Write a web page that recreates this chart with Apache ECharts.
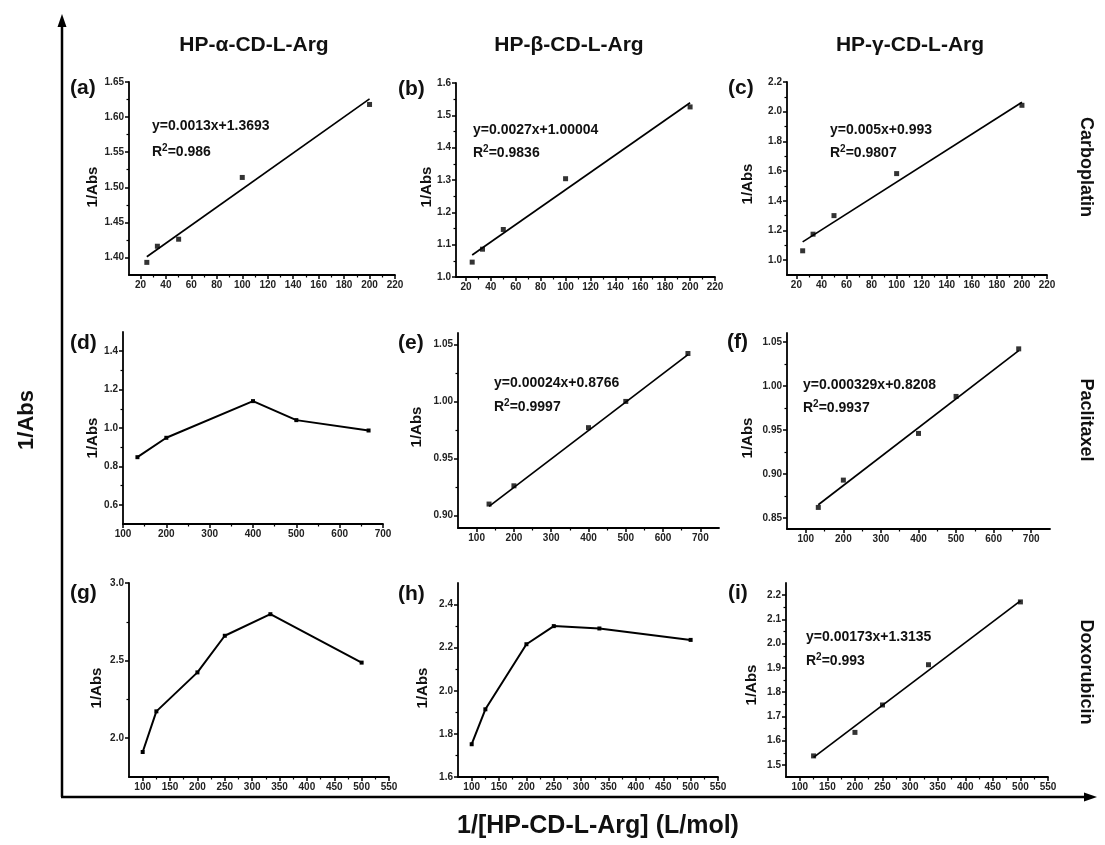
<!DOCTYPE html>
<html>
<head>
<meta charset="utf-8">
<script src="https://cdn.jsdelivr.net/npm/echarts@6.0.0/dist/echarts.min.js"></script>
<style>
html,body{margin:0;padding:0;background:#fff;}
#chart{width:1105px;height:845px;}
</style>
</head>
<body>
<div id="chart"></div>
<script>
// ---------------- DATA ----------------
const colTitles = ['HP-\u03B1-CD-L-Arg', 'HP-\u03B2-CD-L-Arg', 'HP-\u03B3-CD-L-Arg'];
const rowTitles = ['Carboplatin', 'Paclitaxel', 'Doxorubicin'];
const panelLetters = ['(a)', '(b)', '(c)', '(d)', '(e)', '(f)', '(g)', '(h)', '(i)'];
const yAxisTitle = '1/Abs';
const bigYTitle = '1/Abs';
const bigXTitle = '1/[HP-CD-L-Arg] (L/mol)';

// Carboplatin row
const xCarbo = [25, 33.3, 50, 100, 200];
const yA = [1.393, 1.416, 1.426, 1.514, 1.618];
const yB = [1.046, 1.086, 1.147, 1.304, 1.526];
const yC = [1.063, 1.175, 1.300, 1.583, 2.043];
const fitA = [[25, 1.401], [200, 1.626]];
const fitB = [[25, 1.068], [200, 1.539]];
const fitC = [[25, 1.123], [200, 2.063]];

// Paclitaxel row
const xPacli = [133.3, 200, 400, 500, 666.7];
const yD = [0.848, 0.949, 1.140, 1.041, 0.987];
const yE = [0.910, 0.926, 0.977, 1.000, 1.042];
const yF = [0.862, 0.893, 0.946, 0.988, 1.042];
const fitE = [[133.3, 0.908], [666.7, 1.041]];
const fitF = [[133.3, 0.865], [666.7, 1.040]];

// Doxorubicin row
const xDoxoGH = [100, 125, 200, 250, 333.3, 500];
const yG = [1.911, 2.173, 2.424, 2.660, 2.799, 2.487];
const yH = [1.752, 1.914, 2.216, 2.300, 2.289, 2.236];
const xDoxoI = [125, 200, 250, 333.3, 500];
const yI = [1.537, 1.634, 1.747, 1.913, 2.172];
const fitI = [[125, 1.531], [500, 2.176]];

// Equations
const eqA = 'y=0.0013x+1.3693', r2A = '0.986';
const eqB = 'y=0.0027x+1.00004', r2B = '0.9836';
const eqC = 'y=0.005x+0.993', r2C = '0.9807';
const eqE = 'y=0.00024x+0.8766', r2E = '0.9997';
const eqF = 'y=0.000329x+0.8208', r2F = '0.9937';
const eqI = 'y=0.00173x+1.3135', r2I = '0.993';

// Tick labels
const xTicksCarbo = [20, 40, 60, 80, 100, 120, 140, 160, 180, 200, 220];
const xTicksPacli = [100, 200, 300, 400, 500, 600, 700];
const xTicksDoxo = [100, 150, 200, 250, 300, 350, 400, 450, 500, 550];
const yTicksA = [1.40, 1.45, 1.50, 1.55, 1.60, 1.65];
const yTicksB = [1.0, 1.1, 1.2, 1.3, 1.4, 1.5, 1.6];
const yTicksC = [1.0, 1.2, 1.4, 1.6, 1.8, 2.0, 2.2];
const yTicksD = [0.6, 0.8, 1.0, 1.2, 1.4];
const yTicksE = [0.90, 0.95, 1.00, 1.05];
const yTicksF = [0.85, 0.90, 0.95, 1.00, 1.05];
const yTicksG = [2.0, 2.5, 3.0];
const yTicksH = [1.6, 1.8, 2.0, 2.2, 2.4];
const yTicksI = [1.5, 1.6, 1.7, 1.8, 1.9, 2.0, 2.1, 2.2];

// ---------------- LAYOUT ----------------
const FONT = '"Liberation Sans", Arial, Helvetica, sans-serif';
const panels = [
  {rect:[129, 82, 266, 193], xr:[11, 220], yr:[1.375, 1.65], x:xCarbo, y:yA, fit:fitA, xt:xTicksCarbo, yt:yTicksA, yd:2, eq:eqA, r2:r2A, eqPos:[152, 126, 152]},
  {rect:[456, 83, 259, 194], xr:[12, 220], yr:[1.0, 1.6], x:xCarbo, y:yB, fit:fitB, xt:xTicksCarbo, yt:yTicksB, yd:1, eq:eqB, r2:r2B, eqPos:[473, 130, 153]},
  {rect:[787, 82, 260, 193], xr:[12.5, 220], yr:[0.9, 2.2], x:xCarbo, y:yC, fit:fitC, xt:xTicksCarbo, yt:yTicksC, yd:1, eq:eqC, r2:r2C, eqPos:[830, 130, 153]},
  {rect:[123, 332, 260, 192], xr:[100, 700], yr:[0.5, 1.5], x:xPacli, y:yD, fit:null, xt:xTicksPacli, yt:yTicksD, yd:1},
  {rect:[458, 333, 261, 195], xr:[50, 750], yr:[0.889, 1.06], x:xPacli, y:yE, fit:fitE, xt:xTicksPacli, yt:yTicksE, yd:2, eq:eqE, r2:r2E, eqPos:[494, 383, 407]},
  {rect:[787, 333, 263, 196], xr:[50, 750], yr:[0.8375, 1.06], x:xPacli, y:yF, fit:fitF, xt:xTicksPacli, yt:yTicksF, yd:2, eq:eqF, r2:r2F, eqPos:[803, 385, 408]},
  {rect:[129, 583, 260, 194], xr:[75, 550], yr:[1.75, 3.0], x:xDoxoGH, y:yG, fit:null, xt:xTicksDoxo, yt:yTicksG, yd:1},
  {rect:[458, 583, 260, 194], xr:[75, 550], yr:[1.6, 2.5], x:xDoxoGH, y:yH, fit:null, xt:xTicksDoxo, yt:yTicksH, yd:1},
  {rect:[786, 583, 262, 194], xr:[75, 550], yr:[1.45, 2.25], x:xDoxoI, y:yI, fit:fitI, xt:xTicksDoxo, yt:yTicksI, yd:1, eq:eqI, r2:r2I, eqPos:[806, 637, 661]}
];
const letterPos = [[70, 88], [398, 89], [728, 88], [70, 343], [398, 343], [727, 342], [70, 593], [398, 594], [728, 593]];
const yTitlePos = [[93, 187], [427, 187], [748, 184], [93, 438], [417, 427], [748, 438], [97, 688], [423, 688], [752, 685]];

function minors(maj, lo, hi) {
  const out = [];
  const step = maj[1] - maj[0];
  const cand = [maj[0] - step / 2];
  for (let i = 0; i < maj.length; i++) cand.push(maj[i] + step / 2);
  cand.forEach(v => { if (v > lo + 1e-9 && v < hi - 1e-9) out.push(+v.toFixed(6)); });
  return out;
}

const grids = [], xAxes = [], yAxes = [], series = [];
const axisLineStyle = {color: '#000', width: 1.8};
panels.forEach((p, i) => {
  grids.push({left: p.rect[0], top: p.rect[1], width: p.rect[2], height: p.rect[3], containLabel: false});
  const lbl = {fontFamily: FONT, fontSize: 10, fontWeight: 'bold', color: '#222'};
  // main x axis
  xAxes.push({
    gridIndex: i, type: 'value', min: p.xr[0], max: p.xr[1],
    axisLine: {show: true, onZero: false, lineStyle: axisLineStyle},
    axisTick: {show: true, length: 4, customValues: p.xt, lineStyle: {color: '#000', width: 1.5}},
    axisLabel: Object.assign({show: true, margin: 5, customValues: p.xt, formatter: v => String(Math.round(v))}, lbl),
    splitLine: {show: false}
  });
  // minor x ticks
  xAxes.push({
    gridIndex: i, type: 'value', min: p.xr[0], max: p.xr[1], position: 'bottom',
    axisLine: {show: false, onZero: false},
    axisTick: {show: true, length: 2.5, customValues: minors(p.xt, p.xr[0], p.xr[1]), lineStyle: {color: '#000', width: 1.2}},
    axisLabel: {show: false}, splitLine: {show: false}
  });
  yAxes.push({
    gridIndex: i, type: 'value', min: p.yr[0], max: p.yr[1],
    axisLine: {show: true, onZero: false, lineStyle: axisLineStyle},
    axisTick: {show: true, length: 4, customValues: p.yt, lineStyle: {color: '#000', width: 1.5}},
    axisLabel: Object.assign({show: true, margin: 5, customValues: p.yt, formatter: v => Number(v).toFixed(p.yd)}, lbl),
    splitLine: {show: false}
  });
  yAxes.push({
    gridIndex: i, type: 'value', min: p.yr[0], max: p.yr[1], position: 'left',
    axisLine: {show: false, onZero: false},
    axisTick: {show: true, length: 2.5, customValues: minors(p.yt, p.yr[0], p.yr[1]), lineStyle: {color: '#000', width: 1.2}},
    axisLabel: {show: false}, splitLine: {show: false}
  });
  const pts = p.x.map((xv, k) => [xv, p.y[k]]);
  const xi = i * 2, yi = i * 2;
  if (p.fit) {
    series.push({
      type: 'line', xAxisIndex: xi, yAxisIndex: yi, data: p.fit, showSymbol: false, symbol: 'none',
      lineStyle: {color: '#000', width: 1.7}, silent: true, z: 2
    });
    series.push({
      type: 'scatter', xAxisIndex: xi, yAxisIndex: yi, data: pts, symbol: 'rect', symbolSize: 5,
      itemStyle: {color: '#000'}, z: 3
    });
  } else {
    series.push({
      type: 'line', xAxisIndex: xi, yAxisIndex: yi, data: pts, symbol: 'rect', symbolSize: 4, showSymbol: true,
      lineStyle: {color: '#000', width: 2}, itemStyle: {color: '#000'}, z: 3
    });
  }
});

// ---------------- GRAPHIC ----------------
const g = [];
const frameStroke = {stroke: '#000', lineWidth: 2.5};
g.push({type: 'line', shape: {x1: 62, y1: 797, x2: 62, y2: 24}, style: frameStroke});
g.push({type: 'polygon', shape: {points: [[62, 14], [57.5, 27], [66.5, 27]]}, style: {fill: '#000'}});
g.push({type: 'line', shape: {x1: 61, y1: 797, x2: 1087, y2: 797}, style: frameStroke});
g.push({type: 'polygon', shape: {points: [[1097, 797], [1084, 792.5], [1084, 801.5]]}, style: {fill: '#000'}});

g.push({type: 'text', x: 27, y: 420, rotation: Math.PI / 2,
  style: {text: bigYTitle, font: 'bold 22px ' + FONT, fill: '#111', align: 'center', verticalAlign: 'middle'}});
g.push({type: 'text', x: 598, y: 826,
  style: {text: bigXTitle, font: 'bold 25px ' + FONT, fill: '#111', align: 'center', verticalAlign: 'middle'}});
const colX = [254, 569, 910];
colTitles.forEach((t, k) => g.push({type: 'text', x: colX[k], y: 45,
  style: {text: t, font: 'bold 21px ' + FONT, fill: '#111', align: 'center', verticalAlign: 'middle'}}));
const rowY = [167, 420, 672];
rowTitles.forEach((t, k) => g.push({type: 'text', x: 1086, y: rowY[k], rotation: -Math.PI / 2,
  style: {text: t, font: 'bold 18px ' + FONT, fill: '#111', align: 'center', verticalAlign: 'middle'}}));
panelLetters.forEach((t, k) => g.push({type: 'text', x: letterPos[k][0], y: letterPos[k][1],
  style: {text: t, font: 'bold 21px ' + FONT, fill: '#111', align: 'left', verticalAlign: 'middle'}}));
yTitlePos.forEach((pos) => g.push({type: 'text', x: pos[0], y: pos[1], rotation: Math.PI / 2,
  style: {text: yAxisTitle, font: 'bold 15px ' + FONT, fill: '#111', align: 'center', verticalAlign: 'middle'}}));
panels.forEach(p => {
  if (!p.eq) return;
  g.push({type: 'text', x: p.eqPos[0], y: p.eqPos[1],
    style: {text: p.eq, font: 'bold 14px ' + FONT, fill: '#111', align: 'left', verticalAlign: 'middle'}});
  g.push({type: 'text', x: p.eqPos[0], y: p.eqPos[2],
    style: {text: '{r|R}{s|2}{r|=' + p.r2 + '}', align: 'left', verticalAlign: 'middle',
      rich: {
        r: {fontFamily: FONT, fontSize: 14, fontWeight: 'bold', fill: '#111', color: '#111'},
        s: {fontFamily: FONT, fontSize: 10, fontWeight: 'bold', fill: '#111', color: '#111', padding: [0, 0, 8, 0]}
      }}});
});

const chart = echarts.init(document.getElementById('chart'), null, {renderer: 'canvas'});
chart.setOption({
  backgroundColor: '#fff',
  animation: false,
  grid: grids,
  xAxis: xAxes,
  yAxis: yAxes,
  series: series,
  graphic: g
});
</script>
</body>
</html>
